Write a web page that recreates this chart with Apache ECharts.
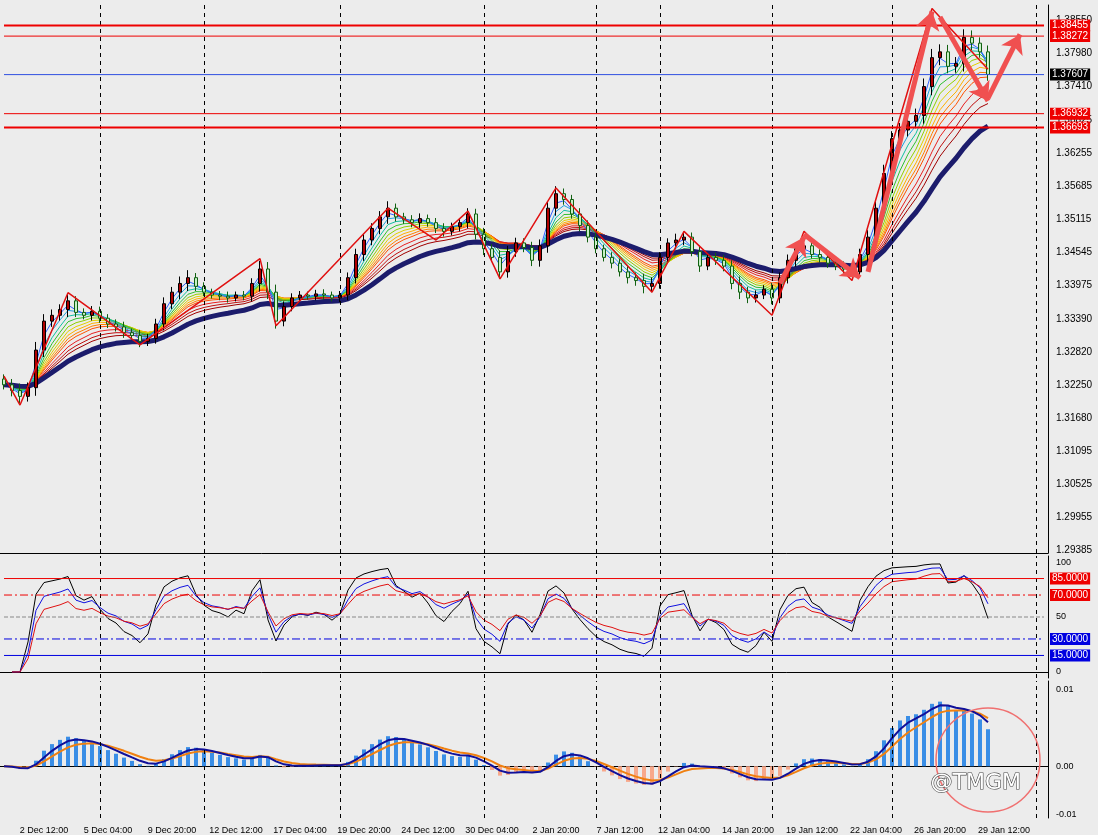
<!DOCTYPE html>
<html><head><meta charset="utf-8">
<script src="https://cdn.jsdelivr.net/npm/echarts@6/dist/echarts.min.js"></script>
<style>html,body{margin:0;padding:0;background:#ececec}#c{width:1098px;height:835px}</style>
</head><body><div id="c"></div>
<script>
const closes = [1.3225,1.3215,1.3205,1.3220,1.3285,1.3335,1.3345,1.3355,1.3370,1.3350,
1.3345,1.3352,1.3340,1.3330,1.3325,1.3315,1.3310,1.3300,1.3305,1.3330,
1.3365,1.3385,1.3400,1.3410,1.3395,1.3385,1.3380,1.3378,1.3375,1.3380,
1.3378,1.3400,1.3425,1.3385,1.3335,1.3360,1.3375,1.3380,1.3378,1.3382,
1.3380,1.3375,1.3380,1.3410,1.3450,1.3475,1.3495,1.3515,1.3530,1.3515,
1.3510,1.3505,1.3512,1.3505,1.3495,1.3490,1.3498,1.3505,1.3520,1.3485,
1.3460,1.3445,1.3420,1.3455,1.3470,1.3462,1.3440,1.3465,1.3530,1.3555,
1.3545,1.3520,1.3500,1.3480,1.3460,1.3445,1.3435,1.3420,1.3410,1.3405,
1.3395,1.3400,1.3445,1.3470,1.3475,1.3480,1.3455,1.3430,1.3445,1.3440,
1.3430,1.3400,1.3385,1.3375,1.3380,1.3390,1.3375,1.3410,1.3440,1.3460,
1.3465,1.3450,1.3445,1.3435,1.3430,1.3425,1.3420,1.3450,1.3480,1.3530,
1.3590,1.3650,1.3665,1.3680,1.3690,1.3740,1.3790,1.3800,1.3775,1.3780,
1.3825,1.3815,1.3800,1.3761];
const wicks = [8,10,12,9,14,12,10,9,13,8,7,9,8,7,8,9,7,10,8,9,
11,9,12,13,8,7,6,7,8,6,7,9,14,12,13,9,8,7,6,7,8,6,7,9,10,11,9,10,12,8,
7,8,9,7,8,9,7,8,10,9,11,8,12,10,9,8,10,11,12,13,9,8,10,9,8,7,9,8,10,9,
12,10,9,8,11,9,8,10,7,8,9,10,12,9,8,7,11,9,10,11,8,7,9,8,7,8,9,10,12,14,
15,13,12,11,12,14,15,13,12,11,14,12,10,11];
const zigzag = [[0,1.3240],[2,1.3190],[8,1.3384],[17,1.3294],[32,1.3443],[34,1.3327],[48,1.3530],[54,1.3475],[58,1.3525],[62,1.3408],[69,1.3565],[81,1.3385],[85,1.3490],[96,1.3345],[100,1.3490],[106,1.3405],[116,1.3875],[123,1.3770]];
const arrows = [[[97,1.3400],[100,1.3480]],[[100,1.3485],[107,1.3410]],[[108,1.3420],[116,1.3870]],[[117,1.3860],[123,1.3715]],[[123,1.3720],[127,1.3830]]];
const dateLabels = ["2 Dec 12:00","5 Dec 04:00","9 Dec 20:00","12 Dec 12:00","17 Dec 04:00","19 Dec 20:00","24 Dec 12:00","30 Dec 04:00","2 Jan 20:00","7 Jan 12:00","12 Jan 04:00","14 Jan 20:00","19 Jan 12:00","22 Jan 04:00","26 Jan 20:00","29 Jan 12:00"];
const priceTicks = [1.29385,1.29955,1.30525,1.31095,1.31680,1.32250,1.32820,1.33390,1.33975,1.34545,1.35115,1.35685,1.36255,1.36825,1.37410,1.37980,1.38550];
const levelsRed = [1.38455,1.36693];
const levelsRedThin = [1.38272,1.36932];
const levelBlue = 1.37607;
const rsiLevels = [85,70,50,30,15];
const vLines = [12,25,42,60,74,82,96,111,129];
const emaPeriods = [2,3,4,5,6,7,8,9,10,12,14,16];
const emaColors = ['#3060ff','#20a0e0','#10c0a0','#30c030','#90d000','#e0d000','#ffb000','#ff8000','#ff5000','#e82020','#c01010','#a00000'];

const N = 131;
const cats = []; for (let i=0;i<N;i++){ const k=(i-5)/8; cats.push(Number.isInteger(k)&&k>=0&&k<dateLabels.length?dateLabels[k]:''); }
const ohlc = closes.map((c,i)=>{const o=i?closes[i-1]:1.3235;const w=wicks[i]*0.0001;return [o,c,Math.min(o,c)-w,Math.max(o,c)+w];});
function ema(a,p){const k=2/(p+1);const r=[];let e=a[0];a.forEach((v,i)=>{e=i?v*k+e*(1-k):v;r.push(e);});return r;}
function rsi(a,p){const r=[null];let g=0,l=0;for(let i=1;i<a.length;i++){const d=a[i]-a[i-1];const up=Math.max(d,0),dn=Math.max(-d,0);if(i===1){g=up;l=dn;}else{g=(g*(p-1)+up)/p;l=(l*(p-1)+dn)/p;}r.push(l===0?100:100-100/(1+g/l));}return r;}
const e6=ema(closes,6), e13=ema(closes,13);
const macd = e6.map((v,i)=>v-e13[i]);
const sig1 = ema(macd,3), sig2 = ema(macd,6);

const font = 'Liberation Sans';
const vMark = ()=>({silent:true,symbol:'none',animation:false,lineStyle:{color:'#000',type:[4,4],width:1},label:{show:false},data:vLines.map(v=>({xAxis:v}))});
const series = [];
function level(axis,v,color,width,type,txt){
  series.push({type:'line',xAxisIndex:axis,yAxisIndex:axis,data:[[0,v],[N-1,v]],showSymbol:false,silent:true,z:7,
    lineStyle:{color:color,width:width,type:type},
    endLabel:{show:!!txt,formatter:txt||'',backgroundColor:color==='#3050e0'?'#000':color,color:'#fff',fontSize:10,fontFamily:font,padding:[1,2],distance:6}});
}
emaPeriods.slice().reverse().forEach((p,j)=>{const idx=emaPeriods.length-1-j;series.push({type:'line',xAxisIndex:0,yAxisIndex:0,data:ema(closes,p),showSymbol:false,lineStyle:{width:1,color:emaColors[idx]},silent:true,z:2});});
series.push({type:'line',xAxisIndex:0,yAxisIndex:0,data:ema(closes,22),showSymbol:false,lineStyle:{width:5,color:'#1c1c6c'},z:3,markLine:vMark()});
series.push({type:'candlestick',xAxisIndex:0,yAxisIndex:0,data:ohlc,barWidth:4,itemStyle:{color:'#b00000',color0:'#c8f0c8',borderColor:'#000',borderColor0:'#106010',borderWidth:1},z:4});
series.push({type:'line',xAxisIndex:0,yAxisIndex:0,data:zigzag,showSymbol:false,lineStyle:{color:'#e01010',width:1.5},z:5});
levelsRed.forEach(v=>level(0,v,'#ee0000',2,'solid',v.toFixed(5)));
levelsRedThin.forEach(v=>level(0,v,'#ee0000',1,'solid',v.toFixed(5)));
level(0,levelBlue,'#3050e0',1,'solid',levelBlue.toFixed(5));
series.push({type:'lines',coordinateSystem:'cartesian2d',xAxisIndex:0,yAxisIndex:0,data:arrows.map(a=>({coords:a})),symbol:['none','arrow'],symbolSize:18,lineStyle:{color:'#f05050',width:5,opacity:1},z:8,silent:true});
const rc=['#000','#1010e0','#e01010'];
[5,8,12].forEach((p,j)=>series.push({type:'line',xAxisIndex:1,yAxisIndex:1,data:rsi(closes,p),showSymbol:false,lineStyle:{width:1,color:rc[j]},z:3}));
series[series.length-1].markLine=vMark();
const lvlStyle={85:['#ee0000','solid','85.0000'],70:['#ee0000',[8,3,2,3],'70.0000'],50:['#888888','dashed',null],30:['#0000e0',[8,3,2,3],'30.0000'],15:['#0000e0','solid','15.0000']};
rsiLevels.forEach(v=>{const s=lvlStyle[v];level(1,v,s[0],1,s[1],s[2]);});
series.push({type:'bar',xAxisIndex:2,yAxisIndex:2,data:macd.map(v=>({value:v,itemStyle:{color:v>=0?'#3a8ee6':'#f8a88a'}})),barWidth:4,z:2,markLine:vMark()});
series.push({type:'line',xAxisIndex:2,yAxisIndex:2,data:sig2,showSymbol:false,lineStyle:{width:2,color:'#f08010'},z:3});
series.push({type:'line',xAxisIndex:2,yAxisIndex:2,data:sig1,showSymbol:false,lineStyle:{width:2,color:'#10109a'},z:4});

const xBase = (show)=>({type:'category',data:cats,boundaryGap:true,axisTick:{show:false},axisLine:{show:true,lineStyle:{color:'#000'}},splitLine:{show:false},
  axisLabel:{show:show,interval:0,fontSize:9,fontFamily:font,color:'#000',formatter:v=>v}});
const ax = (extra)=>Object.assign({type:'value',position:'right',splitLine:{show:false},axisLine:{show:true,lineStyle:{color:'#000'}},axisTick:{show:true,length:4,lineStyle:{color:'#000'}},axisLabel:{fontSize:10,fontFamily:font,color:'#000',margin:6}},extra);
const chart = echarts.init(document.getElementById('c'));
chart.setOption({
  animation:false, backgroundColor:'#ececec',
  grid:[{left:0,right:50,top:5,height:548},{left:0,right:50,top:556,height:122},{left:0,right:50,top:681,height:137}],
  xAxis:[Object.assign(xBase(false),{gridIndex:0}),Object.assign(xBase(false),{gridIndex:1}),Object.assign(xBase(true),{gridIndex:2})],
  yAxis:[
    ax({gridIndex:0,min:1.29345,max:1.38809,axisLabel:{fontSize:10,fontFamily:font,color:'#000',customValues:priceTicks,formatter:v=>v.toFixed(5)},axisTick:{customValues:priceTicks,length:4,lineStyle:{color:'#000'}}}),
    ax({gridIndex:1,min:-5.5,max:105.5,axisLabel:{fontSize:9,fontFamily:font,color:'#000',customValues:[0,50,100],formatter:v=>String(v)},axisTick:{customValues:[0,50,100],length:4}}),
    ax({gridIndex:2,min:-0.0067,max:0.01104,axisLabel:{fontSize:9,fontFamily:font,color:'#000',customValues:[0.01,0,-0.0062],formatter:v=>v>0.005?'0.01':(v<-0.005?'-0.01':'0.00')},axisTick:{customValues:[0.01,0,-0.0062],length:4}})
  ],
  series:series,
  graphic:[
    {type:'circle',shape:{cx:988,cy:760,r:52},style:{fill:'none',stroke:'#f07070',lineWidth:1.5},z:100},
    {type:'text',left:930,top:772,style:{text:'@TMGM',fontSize:22,fontFamily:'DejaVu Sans',fill:'#ffffff',stroke:'#444',lineWidth:1.2},z:101}
  ]
});
</script></body></html>
